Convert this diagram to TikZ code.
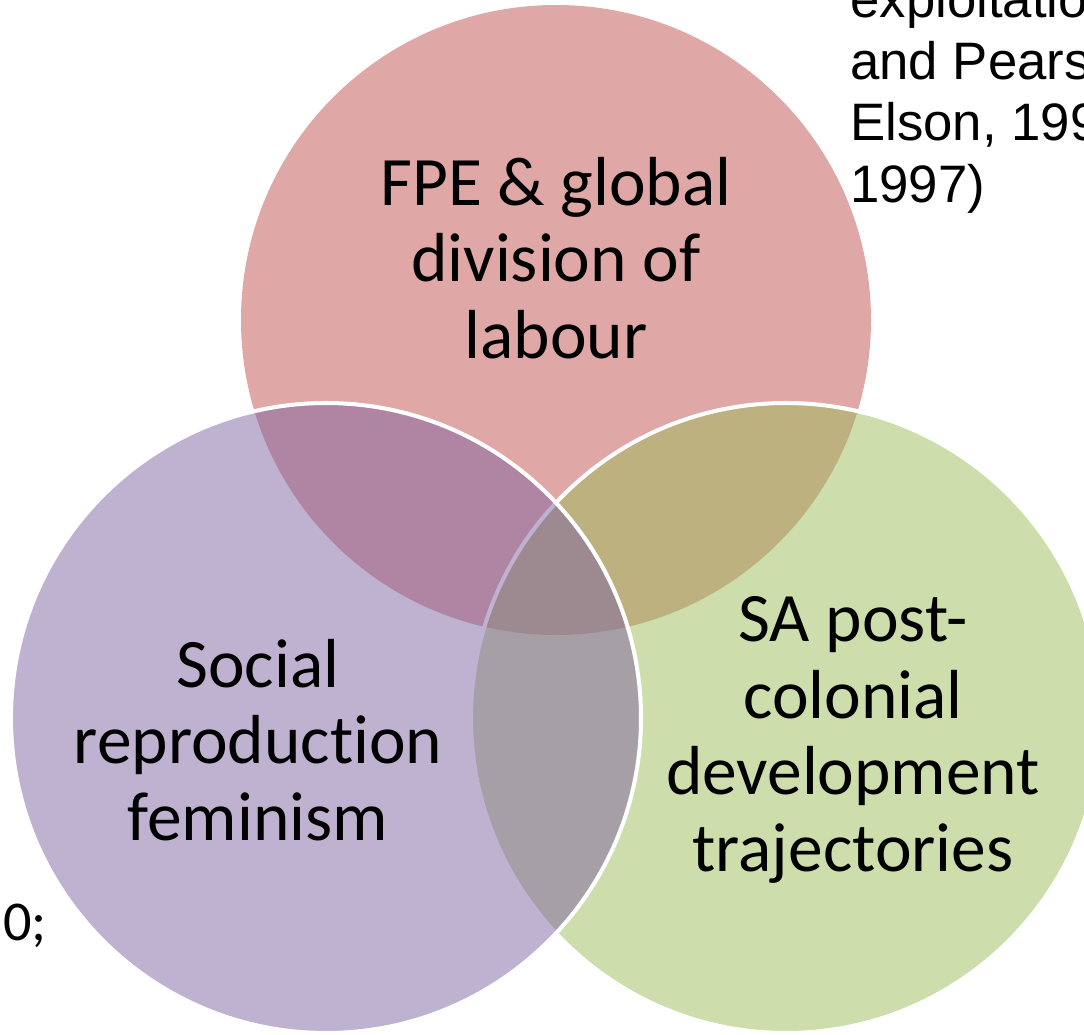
\documentclass[tikz,border=0pt]{standalone}
\usepackage{fontspec}
\setmainfont{Carlito}[Ligatures=NoCommon]
\newfontfamily\arialfont{Liberation Sans}
\definecolor{vennred}{RGB}{192,80,77}
\definecolor{venngreen}{RGB}{155,187,89}
\definecolor{vennpurple}{RGB}{128,100,162}
\tikzset{
  vennlabel/.style={align=center, font=\fontsize{39.5}{43.5}\selectfont},
  vennring/.style={fill opacity=0.5, draw=white, line width=2.3pt},
}

\begin{document}
\begin{tikzpicture}[x=0.02cm, y=-0.02cm]
  \useasboundingbox (0,0) rectangle (1084,1034);
  \clip (0,0) rectangle (1084,1034);

  % the three circles, red at the bottom
  \fill [vennred, fill opacity=0.5] (556,320) circle [radius=315];
  \filldraw [vennring, fill=venngreen] (786,718) circle [radius=315];
  \filldraw [vennring, fill=vennpurple] (326,718) circle [radius=315];

  \node [vennlabel] (fpe) at (556,258) {FPE \& global\\division of\\labour};
  \node [vennlabel] (social) at (258,740) {Social\\reproduction\\feminism};
  \node [vennlabel] (sapost) at (853,740) {SA post-\\colonial\\development\\trajectories};

  % cut-off text at the edges
  \node [anchor=base west, align=left, inner sep=0pt,
         font=\arialfont\fontsize{30}{35}\selectfont] (cite) at (850,202)
        {exploitatio\\and Pears\\Elson, 199\\1997)};
  \node [anchor=base east, inner sep=0pt, font=\fontsize{32}{38}\selectfont] (cut) at (47,940) {0;};
\end{tikzpicture}
\end{document}
